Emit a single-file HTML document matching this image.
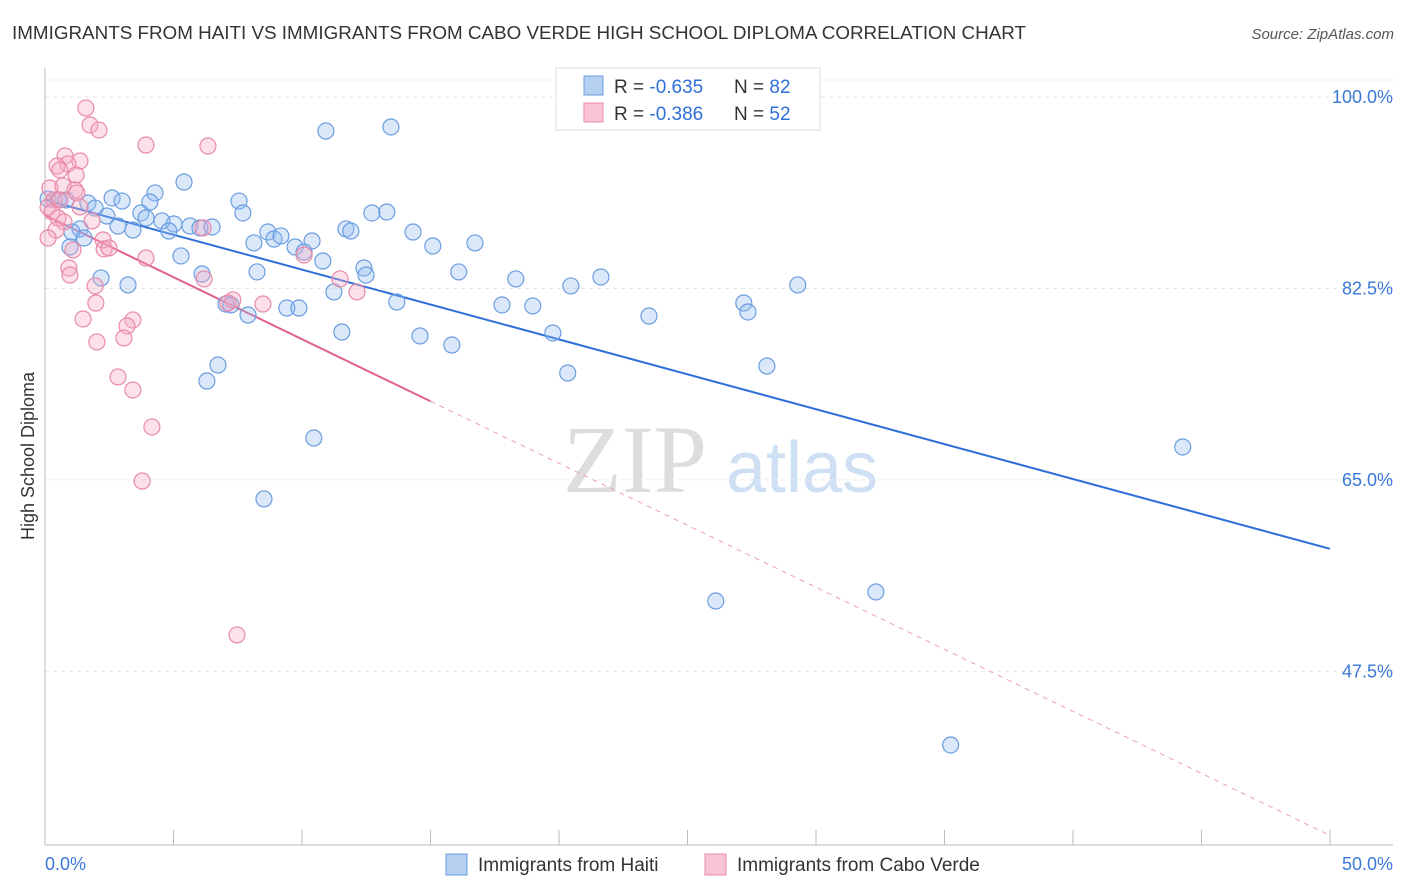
<!DOCTYPE html>
<html><head><meta charset="utf-8">
<style>
body{margin:0;background:#fff;font-family:"Liberation Sans",sans-serif;}
svg{display:block}
</style></head>
<body>
<svg id="chart" width="1406" height="892" viewBox="0 0 1406 892" xmlns="http://www.w3.org/2000/svg">
<text x="12" y="39" font-size="18" fill="#333" textLength="1014" lengthAdjust="spacingAndGlyphs" font-family="Liberation Sans, sans-serif">IMMIGRANTS FROM HAITI VS IMMIGRANTS FROM CABO VERDE HIGH SCHOOL DIPLOMA CORRELATION CHART</text>
<text x="1394" y="39" font-size="15" fill="#555" font-style="italic" text-anchor="end">Source: ZipAtlas.com</text>
<text transform="translate(34,456) rotate(-90)" font-size="18" fill="#333" text-anchor="middle">High School Diploma</text>
<g>
<text x="635" y="492" font-size="96" fill="#ddd" text-anchor="middle" font-family="Liberation Serif, serif">ZIP</text>
<text x="802" y="492" font-size="72" fill="#cfe0f4" text-anchor="middle">atlas</text>
</g>
<g id="grid"></g>
<g id="axes"></g>
<g id="lines"></g>
<g id="pts"></g>
<g>
<rect x="556" y="68" width="264" height="62" fill="#fff" stroke="#ddd"/>
<rect x="584" y="76" width="19" height="19" fill="#b6d0f2" stroke="#6a9de0"/>
<rect x="584" y="103" width="19" height="19" fill="#f8c3d3" stroke="#e88aa8"/>
<text x="614" y="93" font-size="19" fill="#333">R = <tspan fill="#2e6fd8">-0.635</tspan></text>
<text x="734" y="93" font-size="19" fill="#333">N = <tspan fill="#2e6fd8">82</tspan></text>
<text x="614" y="120" font-size="19" fill="#333">R = <tspan fill="#2e6fd8">-0.386</tspan></text>
<text x="734" y="120" font-size="19" fill="#333">N = <tspan fill="#2e6fd8">52</tspan></text>
</g>
<g>
<rect x="446" y="854" width="21" height="21" fill="#b6d0f2" stroke="#6a9de0"/>
<text x="478" y="871" font-size="19" fill="#333">Immigrants from Haiti</text>
<rect x="705" y="854" width="21" height="21" fill="#f8c3d3" stroke="#e88aa8"/>
<text x="737" y="871" font-size="19" fill="#333">Immigrants from Cabo Verde</text>
</g>
</svg>
<script>
const yTicks=[100,82.5,65,47.5];
const yTickLabels=["100.0%","82.5%","65.0%","47.5%"];
const xTickLabels=["0.0%","50.0%"];
const haitiX=[10.93,13.46,5.41,4.28,2.61,3.00,4.08,7.55,0.12,0.51,0.82,1.67,1.95,2.41,3.73,3.93,4.55,5.02,5.64,6.03,6.50,7.70,2.84,3.42,4.82,1.36,1.05,1.52,0.97,8.13,8.67,8.91,9.18,9.73,10.39,10.08,10.81,11.71,11.90,12.72,13.30,14.32,15.09,16.73,5.29,8.25,6.11,2.18,3.23,12.41,12.49,11.24,16.10,18.32,20.46,21.63,29.29,13.69,17.78,18.98,27.19,27.35,23.50,7.04,7.24,7.90,9.41,9.88,11.55,14.59,15.83,19.76,6.73,6.30,20.34,28.09,10.46,44.27,8.52,32.33,26.10,35.24];
const haitiY=[96.89,97.26,92.23,91.23,90.77,90.49,90.40,90.49,90.68,90.59,90.59,90.31,89.85,89.12,89.40,88.94,88.67,88.39,88.21,88.03,88.12,89.40,88.21,87.84,87.75,87.94,87.66,87.11,86.29,86.66,87.66,87.02,87.30,86.29,86.84,85.83,85.01,87.94,87.75,89.40,89.49,87.66,86.38,86.66,85.47,84.01,83.82,83.46,82.82,84.37,83.73,82.18,84.01,83.37,82.73,83.55,82.82,81.26,80.99,80.90,81.17,80.35,79.98,81.08,80.99,80.07,80.71,80.71,78.52,78.16,77.33,78.43,75.50,74.04,74.77,75.41,68.83,68.01,63.26,54.76,53.93,40.77];
const caboX=[1.59,1.75,2.10,3.93,6.34,0.78,1.36,0.89,0.47,0.58,1.21,0.19,0.70,1.17,1.24,0.35,0.12,0.27,1.36,0.51,0.74,1.83,0.43,0.12,2.26,1.09,2.30,2.49,3.93,0.93,0.97,6.15,10.08,6.19,7.31,7.12,8.48,11.48,12.14,1.95,1.98,1.48,3.42,3.19,2.02,3.07,2.84,3.42,4.16,3.78,7.47,0.58];
const caboY=[98.99,97.44,96.98,95.61,95.52,94.61,94.15,93.88,93.69,93.33,92.87,91.68,91.87,91.50,91.23,90.59,89.95,89.49,89.95,88.94,88.58,88.67,87.84,87.11,86.93,86.02,86.11,86.20,85.28,84.37,83.73,88.03,85.56,83.37,81.45,81.17,81.08,83.37,82.18,82.73,81.17,79.71,79.62,79.07,77.61,77.97,74.41,73.22,69.84,64.90,50.83,90.59];
const haitiTrend=[90.6,58.7];
const caboTrend=[89.2,32.5];
const caboSolidEnd=15;
const NS="http://www.w3.org/2000/svg";
const X=v=>45+v/50*1285;
const Y=v=>97+(100-v)*10.94;
function mk(tag,attrs,parent){const e=document.createElementNS(NS,tag);for(const k in attrs)e.setAttribute(k,attrs[k]);document.getElementById(parent).appendChild(e);return e;}
let g=mk('line',{x1:45,x2:1393,y1:80,y2:80,stroke:'#e6e6e6','stroke-dasharray':'4,4'},'grid');


yTicks.forEach((t,i)=>{
 const l=mk('line',{x1:45,x2:1393,y1:Y(t),y2:Y(t),stroke:'#e6e6e6','stroke-dasharray':'4,4'},'grid');
 
 
 const tx=mk('text',{x:1393,y:Y(t)+6,'font-size':18,fill:'#3a78d8','text-anchor':'end'},'grid');
 tx.textContent=yTickLabels[i];
 
 
});
let a=mk('line',{x1:45,x2:1393,y1:845,y2:845,stroke:'#bbb'},'axes');


a=mk('line',{x1:45,x2:45,y1:68,y2:845,stroke:'#bbb'},'axes');


for(let i=0;i<=10;i++){
 const t=mk('line',{x1:X(i*5),x2:X(i*5),y1:830,y2:845,stroke:'#bbb'},'axes');
 
 
}
let xl=mk('text',{x:45,y:870,'font-size':18,fill:'#3a78d8'},'axes');xl.textContent=xTickLabels[0];


xl=mk('text',{x:1393,y:870,'font-size':18,fill:'#3a78d8','text-anchor':'end'},'axes');xl.textContent=xTickLabels[1];


haitiX.forEach((x,i)=>{
 const c=mk('circle',{cx:X(x),cy:Y(haitiY[i]),r:8,fill:'rgba(150,190,240,0.35)',stroke:'#6a9de0','stroke-width':1.2},'pts');
 
 
});
caboX.forEach((x,i)=>{
 const c=mk('circle',{cx:X(x),cy:Y(caboY[i]),r:8,fill:'rgba(245,170,195,0.35)',stroke:'#e88aa8','stroke-width':1.2},'pts');
 
 
});
const ys=v=>caboTrend[0]+(caboTrend[1]-caboTrend[0])*v/50;
let ln=mk('line',{x1:X(0),y1:Y(haitiTrend[0]),x2:X(50),y2:Y(haitiTrend[1]),stroke:'#2e6fd8','stroke-width':2},'lines');


ln=mk('line',{x1:X(0),y1:Y(ys(0)),x2:X(caboSolidEnd),y2:Y(ys(caboSolidEnd)),stroke:'#e0628c','stroke-width':2},'lines');


ln=mk('line',{x1:X(caboSolidEnd),y1:Y(ys(caboSolidEnd)),x2:X(50),y2:Y(ys(50)),stroke:'#eaa0b8','stroke-width':1,'stroke-dasharray':'5,5'},'lines');


</script>
</body></html>
